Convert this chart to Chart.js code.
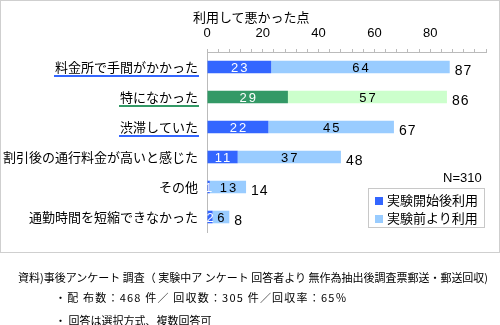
<!DOCTYPE html>
<html lang="ja">
<head>
  <meta charset="UTF-8">
  <title>利用して悪かった点</title>
  <script src="https://cdn.jsdelivr.net/npm/chart.js"></script>
  <style>
    body {
      margin: 0;
      width: 500px;
      height: 325px;
      background: #fff;
      position: relative;
      overflow: hidden;
      font-family: "Liberation Sans", "Noto Sans CJK JP", sans-serif;
      color: #000;
    }
    .frame {
      position: absolute;
      left: 0;
      top: 0;
      width: 500px;
      height: 253px;
      box-sizing: border-box;
      border: 1px solid #cfcfcf;
      pointer-events: none;
    }
    #chart {
      position: absolute;
      left: 0;
      top: 0;
    }
    .title {
      position: absolute;
      left: 193px;
      top: 8px;
      font-size: 13px;
      font-family: "Noto Sans CJK JP", sans-serif;
      line-height: 18px;
    }
    .n {
      position: absolute;
      left: 443px;
      top: 170px;
      font-size: 13px;
      line-height: 16px;
    }
    .legend {
      position: absolute;
      left: 368px;
      top: 188px;
      width: 117px;
      height: 40px;
      box-sizing: border-box;
      border: 1px solid #c8c8c8;
      font-size: 13px;
      font-family: "Noto Sans CJK JP", sans-serif;
      padding: 2px 0 0 6px;
    }
    .legend div {
      height: 18px;
      line-height: 18px;
    }
    .legend span {
      display: inline-block;
      width: 8px;
      height: 8px;
      margin-right: 4px;
    }
    .note {
      position: absolute;
      font-size: 11px;
      font-family: "Noto Sans CJK JP", sans-serif;
      line-height: 14px;
      white-space: nowrap;
    }
  </style>
</head>
<body>
  <canvas id="chart" width="500" height="252"></canvas>
  <div class="frame"></div>
  <div class="title">利用して悪かった点</div>
  <div class="n">N=310</div>
  <div class="legend" id="legend"></div>
  <div class="note" style="left:18px; top:270px;">資料)事後アンケート 調査（ 実験中ア ンケート 回答者より 無作為抽出後調査票郵送・郵送回収)</div>
  <div class="note" style="left:55px; top:290px; letter-spacing:1.2px;">・配 布数：468 件／ 回収数：305 件／回収率：65％</div>
  <div class="note" style="left:55px; top:313px;">・ 回答は選択方式、複数回答可</div>

  <script>
    const categories = [
      '料金所で手間がかかった',
      '特になかった',
      '渋滞していた',
      '割引後の通行料金が高いと感じた',
      'その他',
      '通勤時間を短縮できなかった'
    ];
    const seriesNames = ['実験開始後利用', '実験前より利用'];
    const afterStart = [23, 29, 22, 11, 1, 2];
    const beforeStart = [64, 57, 45, 37, 13, 6];
    const totals = [87, 86, 67, 48, 14, 8];
    const xLabels = [0, 20, 40, 60, 80];

    const darkColors = ['#3366ff', '#339966', '#3366ff', '#3366ff', '#3366ff', '#3366ff'];
    const lightColors = ['#99ccff', '#ccffcc', '#99ccff', '#99ccff', '#99ccff', '#99ccff'];
    const underlineColors = ['#3366ff', '#339966', '#3366ff', null, null, null];

    const labelFont = '13px "Noto Sans CJK JP"';

    // numbers inside bars and totals at the bar end
    const valueLabels = {
      id: 'valueLabels',
      afterDatasetsDraw(chart) {
        const ctx = chart.ctx;
        ctx.save();
        ctx.textBaseline = 'middle';
        chart.data.datasets.forEach((ds, di) => {
          chart.getDatasetMeta(di).data.forEach((bar, i) => {
            ctx.font = '13px "Liberation Sans"';
            ctx.letterSpacing = '2px';
            ctx.textAlign = 'center';
            ctx.fillStyle = di === 0 ? '#fff' : '#000';
            ctx.fillText(String(ds.data[i]), (bar.x + bar.base) / 2 + 1, bar.y + 1);
          });
        });
        const last = chart.getDatasetMeta(1).data;
        ctx.letterSpacing = '1px';
        ctx.textAlign = 'left';
        ctx.fillStyle = '#000';
        ctx.font = '14px "Liberation Sans"';
        last.forEach((bar, i) => {
          ctx.fillText(String(totals[i]), bar.x + 5, bar.y + 4);
        });
        ctx.restore();
      }
    };

    // coloured underline below some category labels
    const underlines = {
      id: 'underlines',
      afterDraw(chart) {
        const ctx = chart.ctx;
        const y = chart.scales.y;
        ctx.save();
        ctx.font = labelFont;
        const right = y.right - 9;
        categories.forEach((c, i) => {
          if (!underlineColors[i]) return;
          const w = ctx.measureText(c).width;
          const py = y.getPixelForTick(i) + 9;
          ctx.strokeStyle = underlineColors[i];
          ctx.lineWidth = 2;
          ctx.beginPath();
          ctx.moveTo(right - w - 1, py);
          ctx.lineTo(right + 1, py);
          ctx.stroke();
        });
        ctx.restore();
      }
    };

    new Chart(document.getElementById('chart'), {
      type: 'bar',
      data: {
        labels: categories,
        datasets: [
          { label: seriesNames[0], data: afterStart, backgroundColor: darkColors },
          { label: seriesNames[1], data: beforeStart, backgroundColor: lightColors }
        ]
      },
      options: {
        indexAxis: 'y',
        responsive: false,
        animation: false,
        layout: { padding: { left: 0, top: 0, right: 14, bottom: 20 } },
        datasets: { bar: { categoryPercentage: 1, barPercentage: 0.42 } },
        scales: {
          x: {
            position: 'top',
            stacked: true,
            min: 0,
            max: 100,
            afterFit: s => { s.height = 52; },
            ticks: {
              stepSize: 4,
              autoSkip: false,
              maxRotation: 0,
              padding: 8,
              color: '#000',
              font: { family: 'Liberation Sans', size: 13 },
              callback: v => xLabels.includes(v) ? String(v) : ''
            },
            grid: { drawOnChartArea: false, tickLength: 3, color: '#bbb' },
            border: { color: '#bbb' }
          },
          y: {
            stacked: true,
            afterFit: s => { s.width = 207; },
            ticks: {
              padding: 9,
              color: '#000',
              font: { family: 'Noto Sans CJK JP', size: 13 }
            },
            grid: { drawOnChartArea: false, drawTicks: false, color: '#bbb' },
            border: { color: '#bbb' }
          }
        },
        plugins: {
          legend: { display: false },
          tooltip: { enabled: false }
        }
      },
      plugins: [valueLabels, underlines]
    });

    const legend = document.getElementById('legend');
    seriesNames.forEach((name, i) => {
      const row = document.createElement('div');
      row.innerHTML = '<span style="background:' + (i === 0 ? darkColors[0] : lightColors[0]) + '"></span>' + name;
      legend.appendChild(row);
    });
  </script>
</body>
</html>
